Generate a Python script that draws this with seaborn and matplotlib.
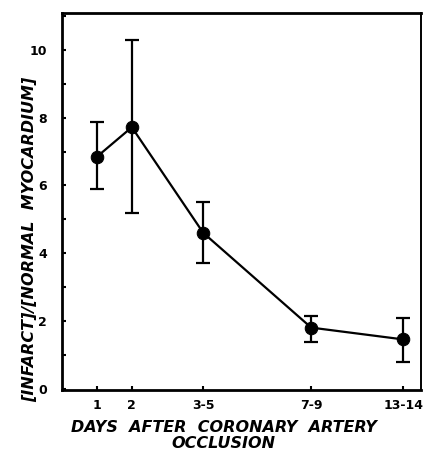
import matplotlib
matplotlib.use("Agg")
import matplotlib.pyplot as plt
import seaborn as sns
import pandas as pd
from matplotlib.ticker import MultipleLocator

# day groups after occlusion, and where they sit on the (uneven) day axis
day_labels = ["1", "2", "3-5", "7-9", "13-14"]
day_pos = [1.0, 2.0, 4.05, 7.15, 9.8]

# infarct / normal myocardium ratio, with error bar ends
ratio = [6.85, 7.72, 4.6, 1.8, 1.45]
err_hi = [7.87, 10.3, 5.5, 2.15, 2.08]
err_lo = [5.9, 5.2, 3.7, 1.38, 0.78]

df = pd.DataFrame({"day": day_pos, "ratio": ratio})

sns.set_style("ticks")
plt.rcParams["font.family"] = ["DejaVu Sans"]
plt.rcParams["text.color"] = "black"
plt.rcParams["axes.labelcolor"] = "black"
plt.rcParams["xtick.color"] = "black"
plt.rcParams["ytick.color"] = "black"
plt.rcParams["axes.edgecolor"] = "black"

fig = plt.figure(figsize=(4.23, 4.58), dpi=100)
ax = fig.add_axes([0.147, 0.148, 0.848, 0.824])

lower = [r - l for r, l in zip(ratio, err_lo)]
upper = [h - r for r, h in zip(ratio, err_hi)]
ax.errorbar(day_pos, ratio, yerr=[lower, upper], fmt="none", ecolor="black",
            elinewidth=1.6, capsize=4.8, capthick=1.6, zorder=2)
sns.lineplot(data=df, x="day", y="ratio", ax=ax, color="black", linewidth=1.6,
             marker="o", markersize=9, markeredgecolor="black", zorder=3)

ax.set_xlim(0, 10.3)
ax.set_ylim(-0.05, 11.1)
ax.set_xticks(day_pos)
ax.set_xticklabels(day_labels, fontweight="bold", fontsize=9)
ax.yaxis.set_major_locator(MultipleLocator(2))
ax.yaxis.set_minor_locator(MultipleLocator(1))
for t in ax.get_yticklabels():
    t.set_fontweight("bold")
    t.set_fontsize(9)
ax.tick_params(axis="y", direction="in", length=3, width=1.5, pad=11)
ax.tick_params(axis="x", direction="in", length=3, width=1.5, pad=6)
ax.tick_params(axis="y", which="minor", direction="in", length=3, width=1.5)

for s in ax.spines.values():
    s.set_linewidth(2.0)
ax.spines["right"].set_linewidth(1.4)

ax.set_xlabel("DAYS  AFTER  CORONARY  ARTERY\nOCCLUSION", fontsize=11.5,
              fontweight="bold", fontstyle="italic", linespacing=1.05)
ax.xaxis.set_label_coords(0.45, -0.08)
ax.set_ylabel("[INFARCT]/[NORMAL  MYOCARDIUM]", fontsize=11.5,
              fontweight="bold", fontstyle="italic")
ax.yaxis.set_label_coords(-0.07, 0.40)

fig.savefig("out.png", dpi=100)
